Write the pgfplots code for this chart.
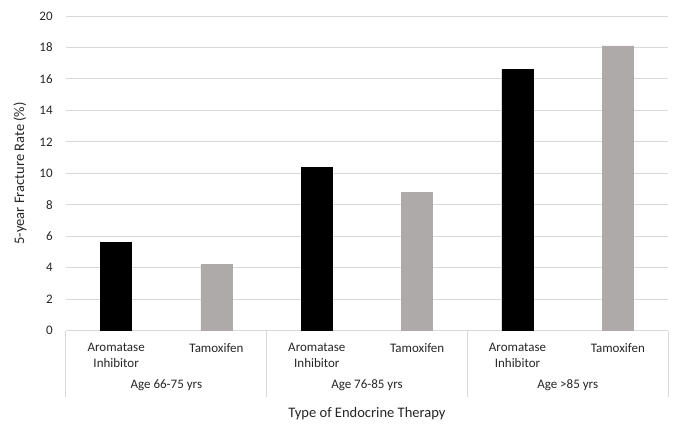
\documentclass[border=0pt]{standalone}
\usepackage{fontspec}
\setmainfont{Carlito}
\usepackage{pgfplots}
\pgfplotsset{compat=1.18}
\definecolor{gridc}{HTML}{D9D9D9}
\definecolor{tam}{HTML}{AEAAAA}
\definecolor{txt}{HTML}{262626}
\begin{document}
\begin{tikzpicture}
\useasboundingbox (-49.5pt,-79.1pt) rectangle (463.5pt,248pt);
\begin{axis}[
  scale only axis, width=451.5pt, height=236pt,
  at={(0,0)}, anchor=south west,
  xmin=-0.5, xmax=5.5, ymin=0, ymax=20,
  ytick={0,2,...,20},
  xtick={0,1,2,3,4,5},
  xticklabels={{Aromatase\\Inhibitor},Tamoxifen,{Aromatase\\Inhibitor},Tamoxifen,{Aromatase\\Inhibitor},Tamoxifen},
  xticklabel style={align=center, font=\fontsize{9.75}{12}\selectfont, text=txt, anchor=north, yshift=-1.6pt},
  yticklabel style={font=\fontsize{9.75}{12}\selectfont, text=txt, xshift=-6.5pt},
  /pgf/number format/assume math mode=true,
  xtick style={draw=none}, ytick style={draw=none},
  axis line style={draw=none},
  ymajorgrids, grid style={gridc, line width=0.75pt},
  ybar, bar width=23.3pt, bar shift=0pt,
  clip=false,
]
\addplot[fill=black, draw=black] coordinates {(0,5.6) (2,10.4) (4,16.6)};
\addplot[fill=tam, draw=tam] coordinates {(1,4.2) (3,8.8) (5,18.1)};
\draw[gridc, line width=0.75pt] (axis cs:-0.5,0) -- ([yshift=-50pt]axis cs:-0.5,0);
\draw[gridc, line width=0.75pt] (axis cs:1.5,0) -- ([yshift=-50pt]axis cs:1.5,0);
\draw[gridc, line width=0.75pt] (axis cs:3.5,0) -- ([yshift=-50pt]axis cs:3.5,0);
\draw[gridc, line width=0.75pt] (axis cs:5.5,0) -- ([yshift=-50pt]axis cs:5.5,0);
\node[font=\fontsize{9.75}{12}\selectfont, text=txt, anchor=base] at ([yshift=-43.5pt]axis cs:0.5,0) {Age 66-75 yrs};
\node[font=\fontsize{9.75}{12}\selectfont, text=txt, anchor=base] at ([yshift=-43.5pt]axis cs:2.5,0) {Age 76-85 yrs};
\node[font=\fontsize{9.75}{12}\selectfont, text=txt, anchor=base] at ([yshift=-43.5pt]axis cs:4.5,0) {Age >85 yrs};
\node[font=\fontsize{10.9}{13}\selectfont, text=txt, anchor=base] at ([yshift=-65pt]axis cs:2.5,0) {Type of Endocrine Therapy};
\node[font=\fontsize{10.9}{13}\selectfont, text=txt, rotate=90, anchor=center] at ([xshift=-34.5pt]rel axis cs:0,0.5) {5-year Fracture Rate (\%)};
\end{axis}
\end{tikzpicture}
\end{document}
